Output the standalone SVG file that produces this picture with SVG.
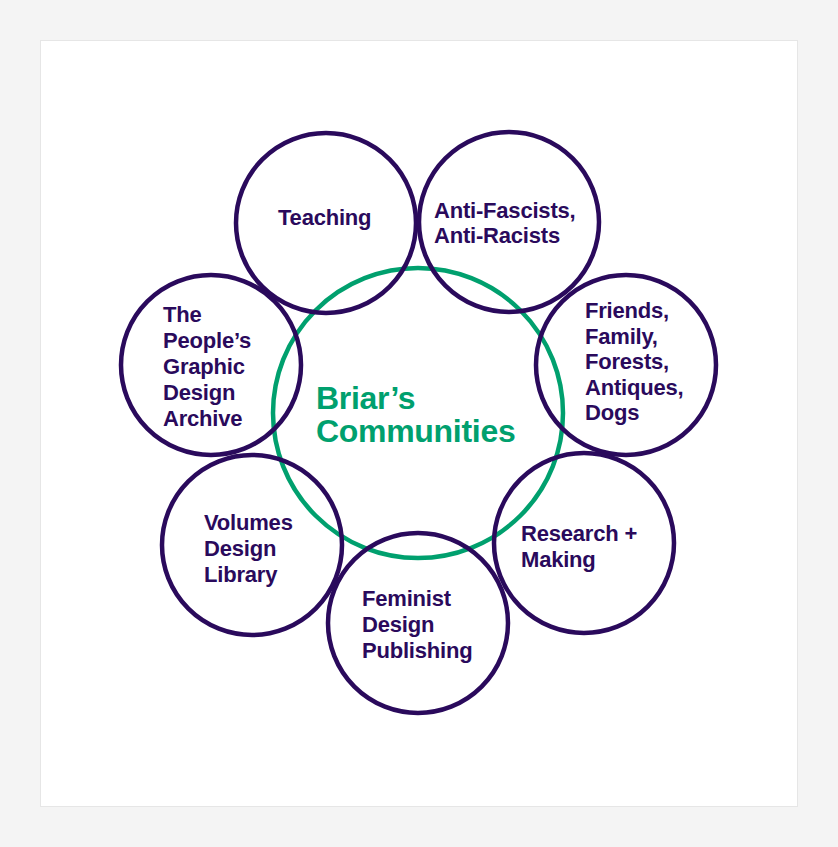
<svg xmlns="http://www.w3.org/2000/svg" width="838" height="847" viewBox="0 0 838 847">
<style>
.n{fill:none;stroke:#2a0a5c;stroke-width:4.5}
.t{font-family:"Liberation Sans",Arial,sans-serif;font-weight:bold;font-size:22px;fill:#2a0a5c;letter-spacing:-0.2px}
.c{font-family:"Liberation Sans",Arial,sans-serif;font-weight:bold;font-size:32px;fill:#00a06e;letter-spacing:-0.3px}
</style>
<rect width="838" height="847" fill="#f4f4f4"/>
<rect x="40.5" y="40.5" width="757" height="766" fill="#fff" stroke="#e6e6e6"/>
<g id="center"><circle cx="418" cy="413" r="145" fill="none" stroke="#00a06e" stroke-width="4.5"/>
<text class="c" x="316"><tspan x="316" y="409">Briar’s</tspan><tspan x="316" y="442">Communities</tspan></text></g>
<g id="teaching"><circle class="n" cx="326" cy="223" r="90"/><text class="t" x="278" y="225">Teaching</text></g>
<g id="anti"><circle class="n" cx="509" cy="222" r="90"/><text class="t"><tspan x="434" y="218">Anti-Fascists,</tspan><tspan x="434" y="243">Anti-Racists</tspan></text></g>
<g id="friends"><circle class="n" cx="626" cy="365" r="90"/><text class="t"><tspan x="585" y="318">Friends,</tspan><tspan x="585" y="344">Family,</tspan><tspan x="585" y="369">Forests,</tspan><tspan x="585" y="395">Antiques,</tspan><tspan x="585" y="420">Dogs</tspan></text></g>
<g id="research"><circle class="n" cx="584" cy="543" r="90"/><text class="t"><tspan x="521" y="541">Research +</tspan><tspan x="521" y="567">Making</tspan></text></g>
<g id="feminist"><circle class="n" cx="418" cy="623" r="90"/><text class="t"><tspan x="362" y="606">Feminist</tspan><tspan x="362" y="632">Design</tspan><tspan x="362" y="658">Publishing</tspan></text></g>
<g id="volumes"><circle class="n" cx="252" cy="545" r="90"/><text class="t"><tspan x="204" y="530">Volumes</tspan><tspan x="204" y="556">Design</tspan><tspan x="204" y="582">Library</tspan></text></g>
<g id="peoples"><circle class="n" cx="211" cy="365" r="90"/><text class="t"><tspan x="163" y="322">The</tspan><tspan x="163" y="348">People’s</tspan><tspan x="163" y="374">Graphic</tspan><tspan x="163" y="400">Design</tspan><tspan x="163" y="426">Archive</tspan></text></g>
<g id="connectors"/>
</svg>
